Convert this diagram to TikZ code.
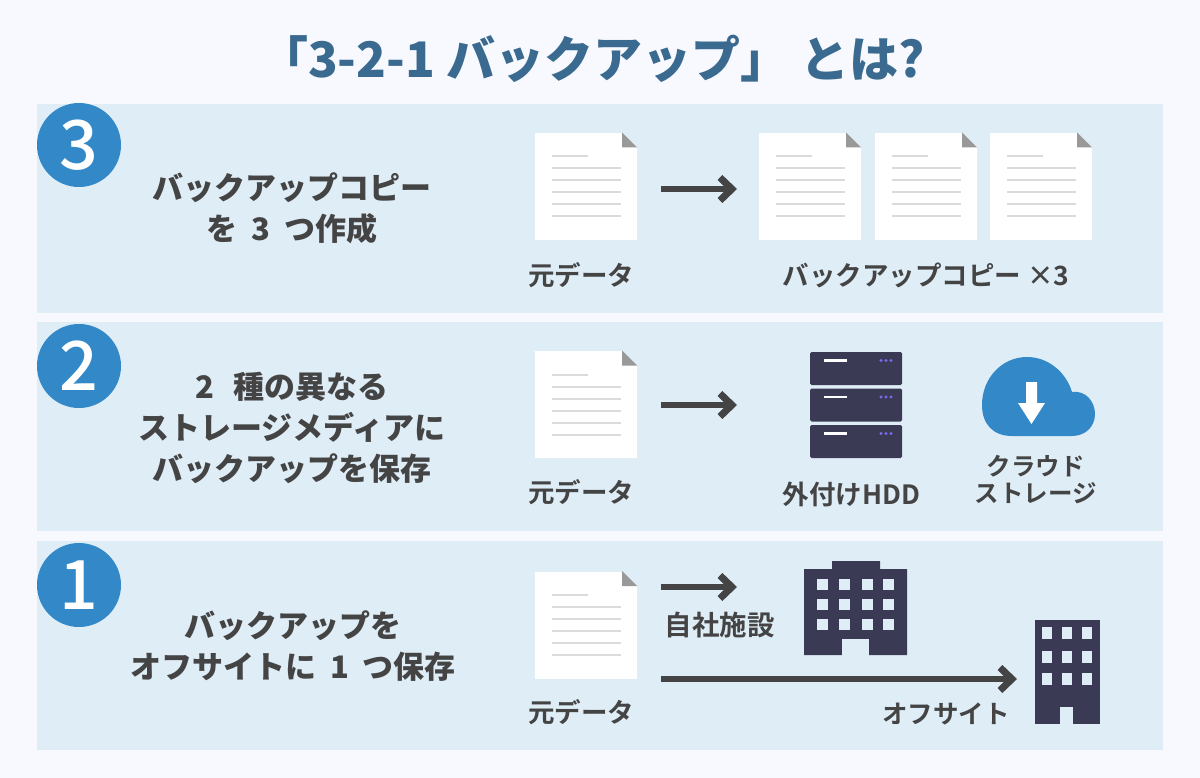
\documentclass[tikz,border=0pt]{standalone}
\usepackage{xcolor}
\usepackage{fontspec}
\setmainfont{Noto Sans CJK JP}[BoldFont=* Bold]
\newfontfamily\heavyfont{Noto Sans CJK JP Black}
\newfontfamily\mediumfont{Noto Sans CJK JP Medium}
\usetikzlibrary{arrows.meta,positioning}
\newcommand{\numgap}{\hspace{.45em}}
\definecolor{pagebg}{HTML}{F8F9FE}
\definecolor{panelbg}{HTML}{DFEDF7}
\definecolor{badgeblue}{HTML}{3388C8}
\definecolor{titleblue}{HTML}{3A6A8F}
\definecolor{inkgray}{HTML}{444444}
\definecolor{navy}{HTML}{3B3A55}
\definecolor{dotviolet}{HTML}{7A6CF0}
\tikzset{
  panel/.style={fill=panelbg,draw=none,minimum width=1126pt,inner sep=0pt,anchor=north west},
  badge/.style={circle,fill=badgeblue,minimum size=84pt,inner sep=0pt,text=white,font=\mediumfont\fontsize{68}{68}\selectfont},
  headtext/.style={text=inkgray,align=center,inner sep=0pt,font=\heavyfont\fontsize{31}{41}\selectfont},
  smalltext/.style={text=inkgray,align=center,inner sep=0pt,font=\bfseries\fontsize{26.5}{27}\selectfont},
  flowarrow/.style={draw=inkgray,line width=6pt,-{Straight Barb[length=12pt,width=23pt,line width=7pt]}},
  docbox/.style={fill=white,minimum width=102pt,minimum height=107pt,inner sep=0pt},
  docicon/.pic={
    \node[docbox] (-box) at (0,0) {};
    \fill[panelbg] (36,-54) -- (52,-54) -- (52,-38) -- cycle;
    \fill[gray!80] (36,-54) -- (51,-39) -- (36,-39) -- cycle;
    \draw[gray!28,line width=2pt] (-34,-30) -- (2,-30);
    \foreach \y in {-18,-6,6,18,30} {
      \draw[gray!28,line width=2pt] (-34,\y) -- (35,\y);
    }
  },
  serverunit/.pic={
    \node[fill=navy,rounded corners=1.5pt,minimum width=92pt,minimum height=33pt,inner sep=0pt] (-box) at (0,0) {};
    \draw[white,line width=2.4pt] (-32,-8) -- (-9,-8);
    \foreach \x in {25,30,35} {
      \fill[dotviolet] (\x,-8) circle (1.6pt);
    }
  }
}
\begin{document}
\begin{tikzpicture}[x=1pt,y=-1pt]
  \useasboundingbox (0,0) rectangle (1200,778);
  \fill[pagebg] (0,0) rectangle (1200,778);

  \node[text=titleblue,inner sep=0pt,font=\heavyfont\fontsize{49}{49}\selectfont] (title) at (592,59) {「3-2-1 バックアップ」 とは?};

  \node[panel,minimum height=209pt] (panel3) at (37,104) {};
  \node[panel,minimum height=209pt] (panel2) at (37,322) {};
  \node[panel,minimum height=209pt] (panel1) at (37,541) {};

  \node[badge] (badge3) at (79,145) {3};
  \node[badge] (badge2) at (79,366) {2};
  \node[badge] (badge1) at (79,585) {1};

  \node[headtext] (head3) at (292,208) {バックアップコピー\\を\numgap 3\numgap つ作成};
  \node[headtext] (head2) at (292,428) {2\hspace{.6em}種の異なる\\ストレージメディアに\\バックアップを保存};
  \node[headtext] (head1) at (293,646) {バックアップを\\オフサイトに\numgap 1\numgap つ保存};

  % source documents
  \pic (doc3) at (586,186.5) {docicon};
  \pic (doc2) at (586,404.5) {docicon};
  \pic (doc1) at (586,625) {docicon};
  \node[smalltext] (src3) at (581,275) {元データ};
  \node[smalltext] (src2) at (581,492) {元データ};
  \node[smalltext] (src1) at (581,712) {元データ};

  % row 3
  \foreach \i/\x in {1/810, 2/926, 3/1041} {
    \pic (copy\i) at (\x,186.5) {docicon};
  }
  \node[smalltext] (copylabel) at (926,275) {バックアップコピー ×3};
  \coordinate (from3) at (661,189);
  \coordinate (to3) at (737,189);
  \draw[flowarrow] (from3) -- (to3);

  % row 2
  \foreach \i/\y in {1/368.5, 2/405, 3/441.5} {
    \pic (srv\i) at (856,\y) {serverunit};
  }
  \node[smalltext] (srvlabel) at (851.5,494) {外付けHDD};
  \coordinate (from2) at (661,405);
  \coordinate (to2) at (737,405);
  \draw[flowarrow] (from2) -- (to2);

  \fill[badgeblue] (1012,436) .. controls (993,436) and (982,424) .. (982,405)
    .. controls (982,378) and (1002,357) .. (1027,357)
    .. controls (1048,357) and (1066,372) .. (1072,392)
    .. controls (1086,390) and (1095,402) .. (1095,414)
    .. controls (1095,427) and (1085,436) .. (1072,436) -- cycle;
  \fill[white] (1026,382) -- (1037,382) -- (1037,403) -- (1045,403) -- (1031.5,424) -- (1018,403) -- (1026,403) -- cycle;
  \node[smalltext,font=\bfseries\fontsize{24.5}{27}\selectfont] (cloudlabel) at (1035.5,480) {クラウド\\ストレージ};

  % row 1
  \coordinate (from1) at (661,587);
  \coordinate (to1) at (737,587);
  \draw[flowarrow] (from1) -- (to1);
  \coordinate (from0) at (661,679);
  \coordinate (to0) at (1017,679);
  \draw[flowarrow] (from0) -- (to0);
  \node[smalltext,font=\bfseries\fontsize{27.5}{27}\selectfont] (ownlabel) at (719.5,625) {自社施設};
  \node[smalltext,font=\bfseries\fontsize{25.5}{27}\selectfont] (offlabel) at (946,714) {オフサイト};

  \fill[navy] (804,569) -- (832,569) -- (832,561) -- (880,561) -- (880,569) -- (907,569) -- (907,655) -- (804,655) -- cycle;
  \fill[panelbg] (842,639) rectangle (869,655.5);
  \foreach \x in {817,839,862,883} {
    \foreach \y in {579,599,619} {
      \fill[panelbg] (\x,\y) rectangle ++(11,11);
    }
  }
  \fill[navy] (1035,620) rectangle (1100,724);
  \fill[panelbg] (1060,707) rectangle (1073,724.5);
  \foreach \x in {1042,1062,1082} {
    \foreach \y in {627,651,673} {
      \fill[panelbg] (\x,\y) rectangle ++(10,12);
    }
  }
\end{tikzpicture}
\end{document}
